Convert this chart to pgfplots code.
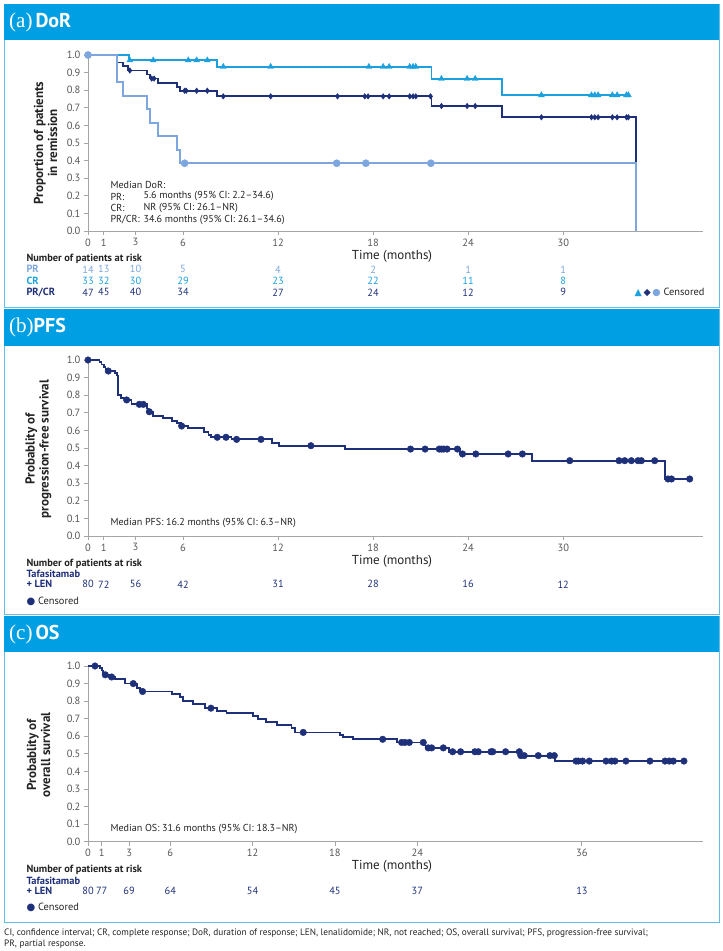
\documentclass[border=0pt]{standalone}
\usepackage{pgfplots}
\pgfplotsset{compat=1.18}
\usepackage{fontspec}
\setmainfont{PT Sans}
\newfontfamily\seriffont{Liberation Serif}
\newfontfamily\symfont{DejaVu Sans}
\definecolor{hdrblue}{RGB}{0,159,227}
\definecolor{brdblue}{RGB}{95,190,235}
\definecolor{navy}{RGB}{30,48,122}
\definecolor{crblue}{RGB}{28,160,222}
\definecolor{prblue}{RGB}{125,166,222}
\definecolor{axgray}{RGB}{165,165,165}
\definecolor{tkgray}{RGB}{85,85,85}
\definecolor{txt}{RGB}{35,35,35}
\newcommand\fs[1]{\fontsize{#1}{#1}\selectfont}
\pgfplotsset{
 km/.style={scale only axis, width=615.3pt, height=176pt, xmin=0, ymin=0, ymax=1,
  anchor=south west,
  axis x line*=bottom, axis y line*=left,
  axis line style={draw=axgray, line width=0.8pt, -},
  every tick/.style={draw=axgray, line width=0.8pt},
  tick align=outside, major tick length=4pt,
  ytick={0,0.1,0.2,0.3,0.4,0.5,0.6,0.7,0.8,0.9,1},
  /pgf/number format/assume math mode=true,
  yticklabel style={/pgf/number format/fixed, /pgf/number format/fixed zerofill,
    /pgf/number format/precision=1, font=\fs{10.5}, text=tkgray},
  xticklabel style={font=\fs{10.5}, text=tkgray},
  clip=false,
 }
}
\begin{document}
\begin{tikzpicture}
\useasboundingbox (0,0) rectangle (723pt,-951pt);
% ---------- panel frames
\draw[brdblue, line width=1pt] (4pt,-4pt) rectangle (719pt,-307pt);
\fill[hdrblue] (4pt,-4pt) rectangle (719pt,-40pt);
\draw[brdblue, line width=1pt] (4pt,-309pt) rectangle (719pt,-614pt);
\fill[hdrblue] (4pt,-309pt) rectangle (719pt,-346pt);
\draw[brdblue, line width=1pt] (4pt,-616pt) rectangle (719pt,-922pt);
\fill[hdrblue] (4pt,-616pt) rectangle (719pt,-652pt);
\node[anchor=west, text=white, inner sep=0pt] at (9pt,-22pt) {{\seriffont\fs{21}(a)}\hspace{3pt}{\bfseries\fs{20}DoR}};
\node[anchor=west, text=white, inner sep=0pt] at (9pt,-327pt) {{\seriffont\fs{21}(b)}{\bfseries\fs{20}PFS}};
\node[anchor=west, text=white, inner sep=0pt] at (9pt,-634pt) {{\seriffont\fs{21}(c)}\hspace{3pt}{\bfseries\fs{20}OS}};

% ---------- (a) DoR
\begin{axis}[km, at={(88pt,-231pt)}, xmax=38.84, xtick={0,1,3,6,12,18,24,30}]
\addplot[const plot, crblue, line width=1.8pt] coordinates {(0,1) (2.59,0.970) (8.12,0.933) (21.68,0.865) (26.14,0.772) (34.2,0.772)};
\addplot[const plot, navy, line width=1.8pt] coordinates {(0,1) (1.85,0.957) (2.23,0.936) (2.5,0.912) (3.7,0.889) (3.9,0.866) (4.44,0.843) (5.6,0.820) (5.8,0.797) (8.12,0.765) (21.68,0.710) (26.14,0.646) (34.6,0)};
\addplot[const plot, prblue, line width=1.8pt] coordinates {(0,1) (1.82,0.846) (2.23,0.769) (3.7,0.692) (3.9,0.615) (4.44,0.538) (5.6,0.462) (5.8,0.385) (34.6,0)};
\addplot[only marks, mark=triangle*, mark size=3.4pt, crblue] coordinates {(2.64,0.970) (4.12,0.970) (6.33,0.970) (6.86,0.970) (7.53,0.970) (8.54,0.933) (11.53,0.933) (17.73,0.933) (18.63,0.933) (19.01,0.933) (20.31,0.933) (20.52,0.933) (20.69,0.933) (22.31,0.865) (23.93,0.865) (24.44,0.865) (28.62,0.772) (31.78,0.772) (31.99,0.772) (32.2,0.772) (33.1,0.772) (33.4,0.772) (33.99,0.772) (34.11,0.772)};
\addplot[only marks, mark=diamond*, mark size=2.8pt, navy] coordinates {(2.64,0.912) (4.02,0.866) (4.17,0.866) (6.1,0.797) (6.2,0.797) (6.86,0.797) (7.53,0.797) (8.54,0.765) (11.53,0.765) (15.75,0.765) (17.47,0.765) (17.68,0.765) (18.63,0.765) (19.01,0.765) (20.31,0.765) (20.52,0.765) (20.69,0.765) (21.62,0.765) (22.31,0.710) (23.93,0.710) (24.44,0.710) (28.62,0.646) (31.78,0.646) (31.99,0.646) (32.2,0.646) (33.1,0.646) (33.4,0.646) (33.99,0.646) (34.11,0.646)};
\addplot[only marks, mark=*, mark size=3.6pt, prblue] coordinates {(0,1) (6.1,0.385) (15.7,0.385) (17.54,0.385) (21.64,0.385)};
\end{axis}
\node[rotate=90, align=center, font=\bfseries\fs{13}, text=txt] at (45.5pt,-143pt) {Proportion of patients\\[1pt]in remission};
\node[font=\fs{13}, text=txt] at (392pt,-256pt) {Time (months)};
\begin{scope}[every node/.style={font=\fs{10.1}, text=txt}]
\node[anchor=west] at (107pt,-184.5pt) {Median DoR:};
\node[anchor=west] at (107pt,-196.5pt) {PR:};
\node[anchor=west] at (140pt,-196.5pt) {5.6 months (95\% CI: 2.2–34.6)};
\node[anchor=west] at (107pt,-208.3pt) {CR:};
\node[anchor=west] at (140pt,-208.3pt) {NR (95\% CI: 26.1–NR)};
\node[anchor=west] at (107pt,-220pt) {PR/CR:};
\node[anchor=west] at (140pt,-220pt) {34.6 months (95\% CI: 26.1–34.6)};
\end{scope}
\node[anchor=west, font=\bfseries\fs{10.4}, text=txt] at (23pt,-259pt) {Number of patients at risk};
\node[anchor=west, font=\bfseries\fs{10.4}, text=prblue] at (23pt,-269.3pt) {PR};
\node[anchor=west, font=\bfseries\fs{10.4}, text=crblue] at (23pt,-281pt) {CR};
\node[anchor=west, font=\bfseries\fs{10.4}, text=navy] at (23pt,-292.3pt) {PR/CR};
\foreach \t/\n in {0/14,1/13,3/10,6/5,12/4,18/2,24/1,30/1}
  \node[font=\fs{10.4}, text=prblue] at ({(88+15.84*\t)*1pt},-269.3pt) {\n};
\foreach \t/\n in {0/33,1/32,3/30,6/29,12/23,18/22,24/11,30/8}
  \node[font=\fs{10.4}, text=crblue] at ({(88+15.84*\t)*1pt},-281pt) {\n};
\foreach \t/\n in {0/47,1/45,3/40,6/34,12/27,18/24,24/12,30/9}
  \node[font=\fs{10.4}, text=navy] at ({(88+15.84*\t)*1pt},-292.3pt) {\n};
\node[anchor=east, font=\fs{10.4}, text=txt] at (708pt,-292.3pt) {{\symfont\fs{9.5}\textcolor{crblue}{▲}\,\textcolor{navy}{◆}\,\textcolor{prblue}{●}} Censored};

% ---------- (b) PFS
\begin{axis}[km, at={(88pt,-536pt)}, xmax=38.84, xtick={0,1,3,6,12,18,24,30}]
\addplot[const plot, navy, line width=1.8pt] coordinates {(0,1) (0.72,0.9875) (0.85,0.975) (1.0,0.9625) (1.1,0.95) (1.2,0.9375) (1.68,0.925) (1.82,0.912) (1.91,0.80) (2.1,0.786) (2.3,0.773) (2.75,0.748) (3.7,0.725) (3.82,0.706) (4.12,0.682) (4.75,0.669) (5.28,0.655) (5.6,0.640) (5.85,0.625) (6.33,0.612) (7.32,0.593) (7.6,0.574) (7.74,0.561) (9.06,0.549) (11.59,0.530) (12.07,0.513) (16.21,0.494) (23.47,0.466) (28.03,0.428) (36.4,0.324) (37.98,0.324)};
\addplot[only marks, mark=*, mark size=3.3pt, navy] coordinates {(0,1) (1.28,0.9375) (2.44,0.773) (3.24,0.748) (3.49,0.748) (3.87,0.706) (5.91,0.625) (8.16,0.561) (8.71,0.561) (9.38,0.549) (10.92,0.549) (14.07,0.513) (20.36,0.494) (21.28,0.494) (22.17,0.494) (22.31,0.494) (22.46,0.494) (22.67,0.494) (23.32,0.494) (23.64,0.466) (24.48,0.466) (26.52,0.466) (27.42,0.466) (30.41,0.428) (33.52,0.428) (33.88,0.428) (34.30,0.428) (34.72,0.428) (34.93,0.428) (35.77,0.428) (36.61,0.324) (36.83,0.324) (37.98,0.324)};
\end{axis}
\node[rotate=90, align=center, font=\bfseries\fs{13}, text=txt] at (38.5pt,-449pt) {Probablity of\\[1pt]progression-free survival};
\node[font=\fs{13}, text=txt] at (392pt,-561pt) {Time (months)};
\node[anchor=west, font=\fs{10.1}, text=txt] at (107pt,-522.7pt) {Median PFS: 16.2 months (95\% CI: 6.3–NR)};
\node[anchor=west, font=\bfseries\fs{10.4}, text=txt] at (23pt,-564pt) {Number of patients at risk};
\node[anchor=west, font=\bfseries\fs{10.4}, text=navy] at (23pt,-574.3pt) {Tafasitamab};
\node[anchor=west, font=\bfseries\fs{10.4}, text=navy] at (23pt,-584.3pt) {+ LEN};
\foreach \t/\n in {0/80,1/72,3/56,6/42,12/31,18/28,24/16,30/12}
  \node[font=\fs{10.4}, text=navy] at ({(88+15.84*\t)*1pt},-584.3pt) {\n};
\node[anchor=west, font=\fs{10.4}, text=txt] at (23pt,-601pt) {{\symfont\fs{10}\textcolor{navy}{●}} Censored};

% ---------- (c) OS
\begin{axis}[km, at={(88pt,-841.7pt)}, height=175.7pt, xmax=44.85, xtick={0,1,3,6,12,18,24,36}]
\addplot[const plot, navy, line width=1.8pt] coordinates {(0,1) (0.87,0.9875) (1.0,0.975) (1.1,0.9625) (1.2,0.95) (1.55,0.9375) (1.97,0.925) (2.7,0.900) (3.6,0.875) (3.8,0.855) (6.1,0.842) (6.7,0.822) (6.95,0.803) (7.68,0.785) (8.53,0.760) (9.38,0.746) (10.1,0.731) (12.05,0.716) (12.4,0.700) (13.0,0.682) (13.75,0.664) (14.84,0.645) (15.08,0.622) (18.36,0.607) (18.6,0.594) (19.33,0.583) (22.5,0.565) (24.5,0.548) (24.65,0.534) (26.34,0.512) (31.5,0.490) (34.05,0.459) (43.44,0.459)};
\addplot[only marks, mark=*, mark size=3.3pt, navy] coordinates {(0.51,1) (1.26,0.95) (1.72,0.9375) (3.3,0.900) (3.98,0.855) (8.96,0.760) (15.69,0.622) (21.48,0.583) (22.86,0.565) (23.1,0.565) (23.42,0.565) (24.44,0.565) (24.8,0.534) (25.05,0.534) (25.9,0.534) (26.58,0.512) (27.16,0.512) (28.2,0.512) (28.45,0.512) (29.37,0.512) (29.5,0.512) (30.44,0.512) (31.44,0.512) (31.55,0.490) (31.8,0.490) (32.82,0.490) (33.67,0.490) (33.99,0.490) (35.57,0.459) (35.74,0.459) (36.05,0.459) (36.54,0.459) (37.76,0.459) (38.17,0.459) (38.41,0.459) (39.21,0.459) (40.96,0.459) (42.06,0.459) (42.37,0.459) (42.66,0.459) (43.44,0.459)};
\end{axis}
\node[rotate=90, align=center, font=\bfseries\fs{13}, text=txt] at (38.5pt,-755pt) {Probablity of\\[1pt]overall survival};
\node[font=\fs{13}, text=txt] at (392pt,-866pt) {Time (months)};
\node[anchor=west, font=\fs{10.1}, text=txt] at (107pt,-829pt) {Median OS: 31.6 months (95\% CI: 18.3–NR)};
\node[anchor=west, font=\bfseries\fs{10.4}, text=txt] at (23pt,-870pt) {Number of patients at risk};
\node[anchor=west, font=\bfseries\fs{10.4}, text=navy] at (23pt,-880.5pt) {Tafasitamab};
\node[anchor=west, font=\bfseries\fs{10.4}, text=navy] at (23pt,-890.5pt) {+ LEN};
\foreach \t/\n in {0/80,1/77,3/69,6/64,12/54,18/45,24/37,36/13}
  \node[font=\fs{10.4}, text=navy] at ({(88+13.72*\t)*1pt},-890.5pt) {\n};
\node[anchor=west, font=\fs{10.4}, text=txt] at (23pt,-907.7pt) {{\symfont\fs{10}\textcolor{navy}{●}} Censored};

% ---------- footnote
\node[anchor=west, font=\fs{9.3}, text=txt, inner sep=0pt] at (4pt,-933.3pt) {CI, confidence interval; CR, complete response; DoR, duration of response; LEN, lenalidomide; NR, not reached; OS, overall survival; PFS, progression-free survival;};
\node[anchor=west, font=\fs{9.3}, text=txt, inner sep=0pt] at (4pt,-944pt) {PR, partial response.};
\end{tikzpicture}
\end{document}
